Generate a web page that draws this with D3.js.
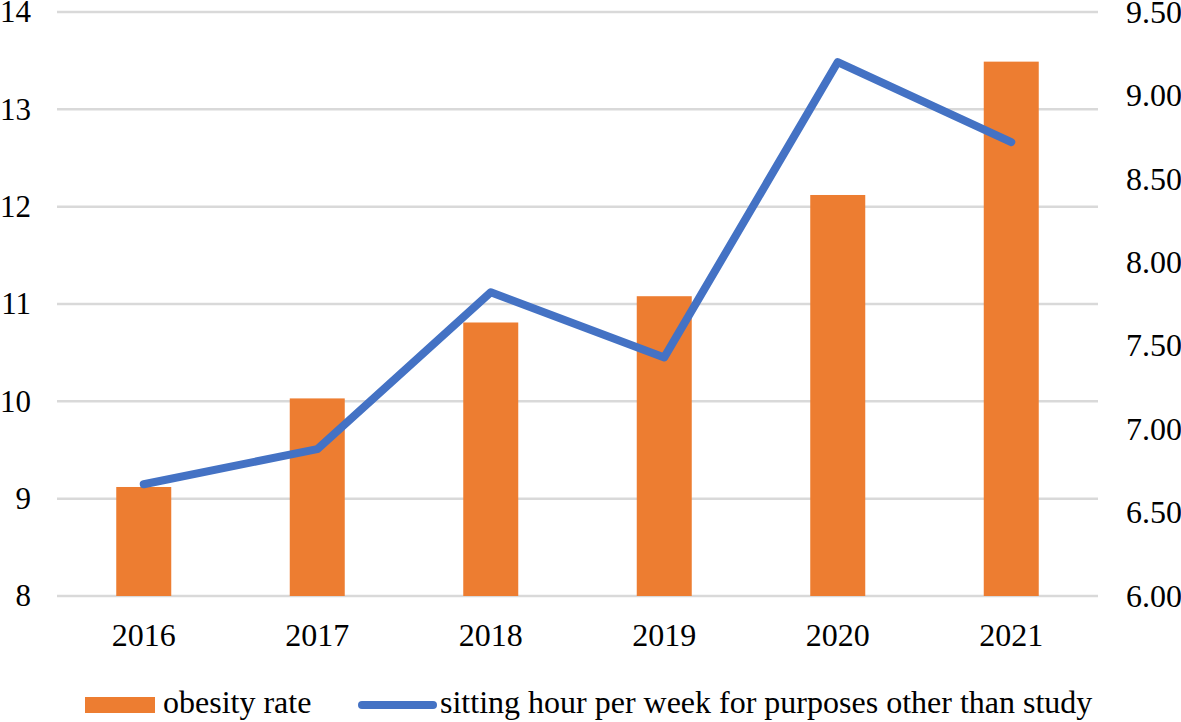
<!DOCTYPE html>
<html>
<head>
<meta charset="utf-8">
<script src="https://cdn.jsdelivr.net/npm/d3@7"></script>
<style>
  html, body { margin: 0; padding: 0; background: #fff; }
</style>
</head>
<body>
<div id="chart"></div>
<script>
var width = 1181,
  height = 722;

// data
var years = ["2016", "2017", "2018", "2019", "2020", "2021"];
var obesityRate = [9.12, 10.03, 10.81, 11.08, 12.12, 13.49];
var sittingHours = [6.67, 6.88, 7.82, 7.43, 9.2, 8.72];
var leftTicks = [8, 9, 10, 11, 12, 13, 14];
var rightTicks = [6, 6.5, 7, 7.5, 8, 8.5, 9, 9.5];
var legendLabels = ["obesity rate", "sitting hour per week for purposes other than study"];

var margin = { top: 12, right: 83, bottom: 126, left: 57 };

var svg = d3
  .select("#chart")
  .append("svg")
  .attr("width", width)
  .attr("height", height)
  .attr("font-family", "Liberation Serif")
  .attr("font-size", 32);

var x = d3
  .scaleBand()
  .domain(years)
  .range([margin.left, width - margin.right])
  .paddingInner(0.683)
  .paddingOuter(0.3415);

var yLeft = d3
  .scaleLinear()
  .domain([8, 14])
  .range([height - margin.bottom, margin.top]);

var yRight = d3
  .scaleLinear()
  .domain([6, 9.5])
  .range([height - margin.bottom, margin.top]);

// gridlines
svg
  .append("g")
  .selectAll("line")
  .data(leftTicks)
  .enter()
  .append("line")
  .attr("x1", margin.left)
  .attr("x2", width - margin.right)
  .attr("y1", d => yLeft(d))
  .attr("y2", d => yLeft(d))
  .attr("stroke", "#d9d9d9")
  .attr("stroke-width", 2.5);

function styleAxis(g) {
  g.attr("font-family", "Liberation Serif").attr("font-size", 32);
  g.select(".domain").remove();
  g.selectAll("text").attr("fill", "#000");
}

// left axis
svg
  .append("g")
  .attr("transform", "translate(" + (margin.left - 26) + ",0)")
  .call(d3.axisLeft(yLeft).tickValues(leftTicks).tickSize(0).tickPadding(0).tickFormat(d3.format("d")))
  .call(styleAxis)
  .attr("font-size", 31);

// right axis
svg
  .append("g")
  .attr("transform", "translate(" + (width - margin.right + 28) + ",0)")
  .call(d3.axisRight(yRight).tickValues(rightTicks).tickSize(0).tickPadding(0).tickFormat(d3.format(".2f")))
  .call(styleAxis);

// bottom axis
svg
  .append("g")
  .attr("transform", "translate(0," + (height - margin.bottom + 27) + ")")
  .call(d3.axisBottom(x).tickSize(0).tickPadding(0))
  .call(styleAxis);

// bars
svg
  .append("g")
  .selectAll("rect")
  .data(obesityRate)
  .enter()
  .append("rect")
  .attr("x", (d, i) => x(years[i]))
  .attr("width", x.bandwidth())
  .attr("y", d => yLeft(d))
  .attr("height", d => yLeft(8) - yLeft(d))
  .attr("fill", "#ed7d31");

// line
var sittingLine = d3
  .line()
  .x((d, i) => x(years[i]) + x.bandwidth() / 2)
  .y(d => yRight(d));

svg
  .append("path")
  .datum(sittingHours)
  .attr("d", sittingLine)
  .attr("fill", "none")
  .attr("stroke", "#4472c4")
  .attr("stroke-width", 8)
  .attr("stroke-linecap", "round")
  .attr("stroke-linejoin", "round");

// legend
var legend = svg.append("g");
legend
  .append("rect")
  .attr("x", 85)
  .attr("y", 697)
  .attr("width", 70)
  .attr("height", 16)
  .attr("fill", "#ed7d31");
legend
  .append("text")
  .attr("x", 163)
  .attr("y", 713)
  .text(legendLabels[0]);
legend
  .append("line")
  .attr("x1", 362)
  .attr("x2", 433)
  .attr("y1", 705)
  .attr("y2", 705)
  .attr("stroke", "#4472c4")
  .attr("stroke-width", 8)
  .attr("stroke-linecap", "round");
legend
  .append("text")
  .attr("x", 440)
  .attr("y", 713)
  .text(legendLabels[1]);
</script>
</body>
</html>
